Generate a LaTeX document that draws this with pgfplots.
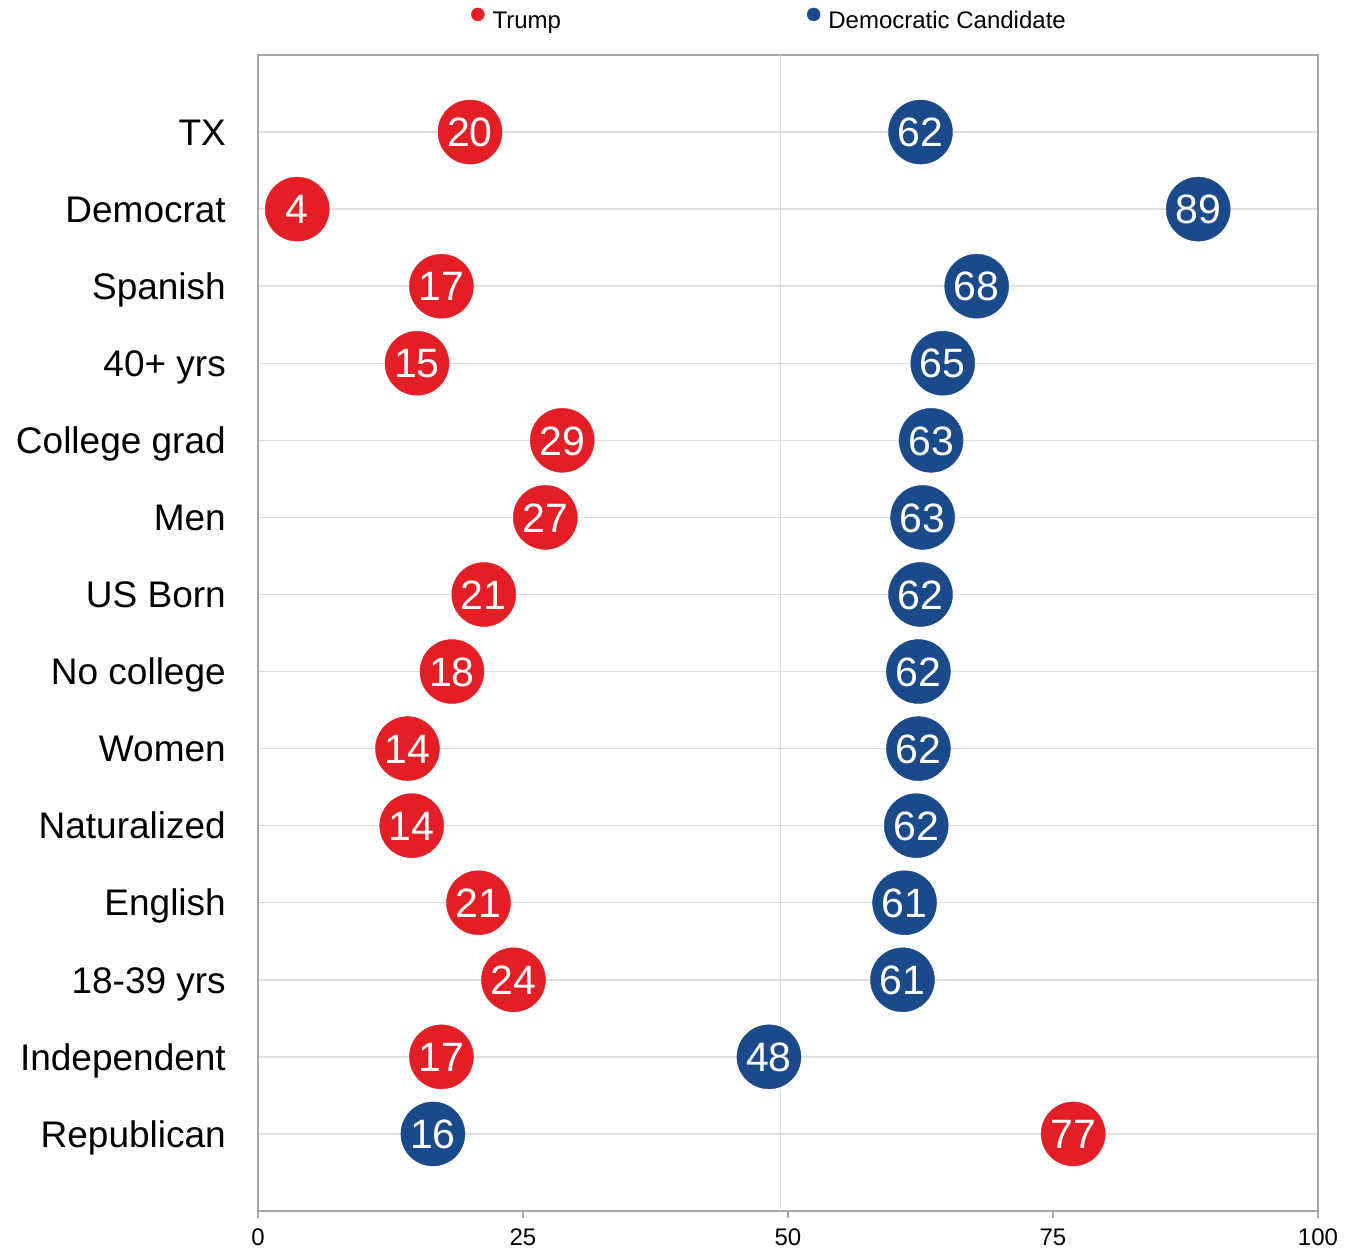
\documentclass[border=0pt]{standalone}
\usepackage{pgfplots}
\pgfplotsset{compat=1.18}
\usepackage{pgfplotstable}
\usepackage{fontspec}
\setmainfont{Liberation Sans}
\definecolor{tred}{HTML}{E31E24}
\definecolor{dblue}{HTML}{1B4A8B}
\definecolor{axgray}{HTML}{A6A6A6}
\definecolor{grd}{HTML}{DEDEDE}
\pgfplotstableread{
y x lab
13 20.0 20
12 3.7 4
11 17.3 17
10 15.0 15
9 28.7 29
8 27.1 27
7 21.3 21
6 18.3 18
5 14.1 14
4 14.5 14
3 20.8 21
2 24.1 24
1 17.3 17
0 76.9 77
}\trump
\pgfplotstableread{
y x lab
13 62.5 62
12 88.7 89
11 67.8 68
10 64.6 65
9 63.5 63
8 62.7 63
7 62.5 62
6 62.3 62
5 62.3 62
4 62.1 62
3 61.0 61
2 60.8 61
1 48.2 48
0 16.5 16
}\dem
\begin{document}
\begin{tikzpicture}
\path[use as bounding box] (-258pt,-40pt) rectangle (1097pt,1211pt);
\begin{axis}[
  scale only axis, width=1060pt, height=1156pt,
  xmin=0, xmax=100, ymin=-1, ymax=14,
  axis line style={axgray, line width=2.5pt},
  xtick={0,25,50,75,100}, xticklabels={0,25,50,75,100},
  xtick pos=lower, ytick pos=left, tick align=outside,
  major tick length=7pt,
  xtick style={axgray, line width=2.5pt},
  ytick style={draw=none},
  ytick={0,...,13},
  yticklabels={Republican,Independent,18-39 yrs,English,Naturalized,Women,No college,US Born,Men,College grad,40+ yrs,Spanish,Democrat,TX},
  ymajorgrids, grid style={grd, line width=1.5pt},
  yticklabel style={font=\fontsize{37}{40}\selectfont, anchor=east, inner sep=0pt, text height=26.5pt, text depth=0pt, xshift=-25pt},
  xticklabel style={font=\fontsize{24}{26}\selectfont, anchor=north, inner sep=0pt, text height=17.2pt, text depth=0pt, yshift=-10pt},
  legend columns=2,
  legend style={draw=none, fill=none, at={(0.2009,1.0311)}, anchor=west,
    font=\fontsize{24}{27}\selectfont, inner sep=0pt,
    nodes={inner sep=0pt},
    /tikz/every odd column/.append style={column sep=8pt},
    /tikz/every even column/.append style={column sep=246pt}},
  nodes near coords, point meta=explicit symbolic,
  every node near coord/.append style={anchor=center, inner sep=0pt, text=white,
    font=\fontsize{41}{44}\selectfont, text height=29.4pt, text depth=0pt},
]
\addplot[only marks, mark=*, mark size=32pt, color=tred, mark options={draw=tred, fill=tred},
  legend image code/.code={\fill[tred] (0pt,6.5pt) circle (6.5pt);}]
  table[x=x, y=y, meta=lab] {\trump};
\addlegendentry{Trump}
\addplot[only marks, mark=*, mark size=32pt, color=dblue, mark options={draw=dblue, fill=dblue},
  legend image code/.code={\fill[dblue] (0pt,6.5pt) circle (6.5pt);}]
  table[x=x, y=y, meta=lab] {\dem};
\addlegendentry{Democratic Candidate}
\addplot[grd, line width=1.5pt, forget plot, nodes near coords=] coordinates {(49.3,-1) (49.3,14)};
\end{axis}
\end{tikzpicture}
\end{document}
